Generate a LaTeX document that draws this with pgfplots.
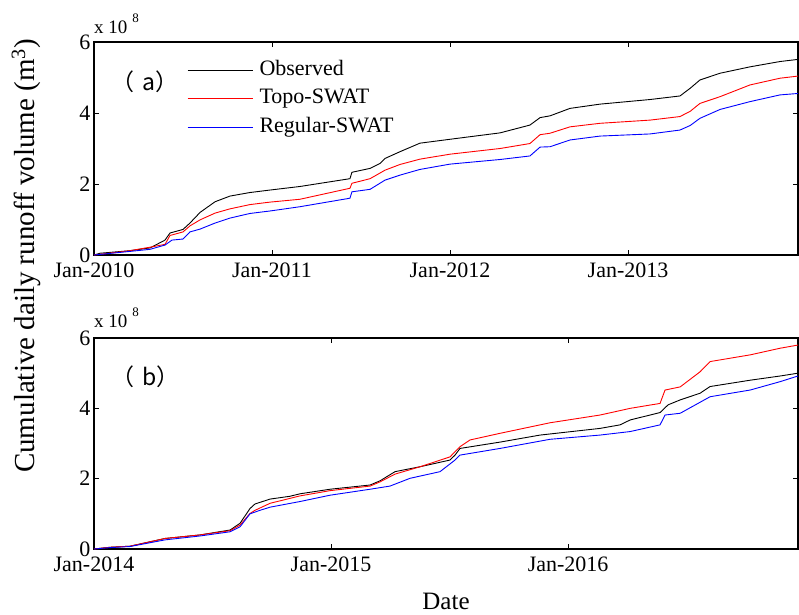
\documentclass[border=0pt]{standalone}
\usepackage{pgfplots}
\pgfplotsset{compat=1.18}
\usepackage{fontspec}
\setmainfont{Liberation Serif}
\newfontfamily\cjk{Noto Sans CJK SC}
\newcommand{\tkfont}{\rmfamily\fontsize{22}{26}\selectfont}
\newcommand{\xten}{\rmfamily\fontsize{19}{22}\selectfont x 10\hspace{5pt}\raisebox{11pt}{\fontsize{13}{14}\selectfont 8}}
\begin{document}
\begin{tikzpicture}
\useasboundingbox (-94pt,-65pt) rectangle (705pt,549pt);
\pgfplotsset{
 common/.style={
  scale only axis, width=704pt,
  ymin=0, ymax=6, ytick={0,2,4,6},
  yticklabels={\tkfont 0,\tkfont 2,\tkfont 4,\tkfont 6},
  tick align=inside, major tick length=5pt,
  axis line style={line width=1.1pt},
  tick style={line width=0.9pt, black},
  clip mode=individual,
  /pgf/number format/assume math mode=true,
  xticklabel style={font=\tkfont, yshift=-4pt},
  yticklabel style={font=\tkfont, inner ysep=0pt},
 },
 every axis plot/.append style={line width=0.9pt},
}
\begin{axis}[common, at={(0pt,294pt)}, height=213pt,
  xmin=2010, xmax=2013.955, xtick={2010,2011,2012,2013},
  xticklabels={\tkfont Jan-2010,\tkfont Jan-2011,\tkfont Jan-2012,\tkfont Jan-2013},
  legend style={at={(axis description cs:0.132,0.915)}, anchor=north west,
    draw=none, fill=none, inner sep=0pt, row sep=8.5pt,
    font=\tkfont,
    nodes={inner xsep=6.5pt, inner ysep=0pt, text height=15pt, text depth=5pt}},
  legend image code/.code={\draw[#1] (0pt,0pt) -- (65pt,0pt);},
  legend cell align=left]
\addplot[black] coordinates {
(2010.0,0) (2010.034,0.05) (2010.2,0.12) (2010.315,0.2) (2010.399,0.42)
(2010.427,0.62) (2010.5,0.72) (2010.539,0.9) (2010.596,1.2) (2010.68,1.5)
(2010.764,1.66) (2010.876,1.76) (2010.989,1.83) (2011.157,1.93) (2011.438,2.15)
(2011.449,2.33) (2011.551,2.44) (2011.607,2.58) (2011.635,2.72) (2011.719,2.91)
(2011.831,3.15) (2012.0,3.26) (2012.281,3.44) (2012.449,3.66) (2012.506,3.87)
(2012.562,3.92) (2012.674,4.13) (2012.843,4.25) (2013.124,4.38) (2013.292,4.48)
(2013.35,4.7) (2013.404,4.93) (2013.517,5.12) (2013.685,5.3) (2013.854,5.45)
(2013.955,5.51)};
\addlegendentry{Observed}
\addplot[red] coordinates {
(2010.0,0) (2010.2,0.12) (2010.315,0.22) (2010.399,0.3) (2010.427,0.55)
(2010.5,0.65) (2010.539,0.82) (2010.596,0.99) (2010.68,1.18) (2010.764,1.3)
(2010.876,1.42) (2010.989,1.49) (2011.157,1.57) (2011.438,1.88) (2011.449,2.02)
(2011.551,2.15) (2011.635,2.39) (2011.719,2.55) (2011.831,2.7) (2012.0,2.84)
(2012.281,3.0) (2012.449,3.14) (2012.506,3.39) (2012.562,3.43) (2012.674,3.61)
(2012.843,3.71) (2013.124,3.8) (2013.292,3.9) (2013.35,4.05) (2013.404,4.27)
(2013.517,4.46) (2013.685,4.79) (2013.854,4.98) (2013.955,5.04)};
\addlegendentry{Topo-SWAT}
\addplot[blue] coordinates {
(2010.0,0) (2010.2,0.1) (2010.315,0.16) (2010.399,0.28) (2010.438,0.42)
(2010.5,0.45) (2010.539,0.65) (2010.596,0.73) (2010.68,0.9) (2010.764,1.04)
(2010.876,1.17) (2010.989,1.24) (2011.157,1.36) (2011.438,1.6) (2011.449,1.78)
(2011.551,1.85) (2011.635,2.11) (2011.719,2.25) (2011.831,2.41) (2012.0,2.56)
(2012.281,2.69) (2012.449,2.79) (2012.506,3.04) (2012.562,3.05) (2012.674,3.24)
(2012.843,3.35) (2013.124,3.41) (2013.292,3.52) (2013.35,3.65) (2013.404,3.85)
(2013.517,4.1) (2013.685,4.32) (2013.854,4.51) (2013.955,4.55)};
\addlegendentry{Regular-SWAT}
\node[anchor=base west, inner sep=0pt] at (rel axis cs:0,1) [yshift=9pt] {\xten};
\node[anchor=west, inner sep=0pt, font=\cjk\fontsize{23}{26}\selectfont]
  at (rel axis cs:0.024,0.812) {（\hspace{8pt}a）};
\end{axis}
\begin{axis}[common, at={(0pt,0pt)}, height=211pt,
  xmin=2014, xmax=2016.97, xtick={2014,2015,2016},
  xticklabels={\tkfont Jan-2014,\tkfont Jan-2015,\tkfont Jan-2016}]
\addplot[black] coordinates {
(2014.0,0) (2014.068,0.05) (2014.152,0.08) (2014.3,0.3) (2014.447,0.4)
(2014.574,0.54) (2014.616,0.73) (2014.658,1.15) (2014.679,1.28) (2014.743,1.42)
(2014.827,1.5) (2014.869,1.57) (2014.996,1.7) (2015.165,1.82) (2015.207,1.94)
(2015.27,2.2) (2015.376,2.34) (2015.502,2.53) (2015.523,2.67) (2015.544,2.86)
(2015.713,3.04) (2015.882,3.24) (2016.135,3.43) (2016.219,3.53) (2016.262,3.67)
(2016.388,3.88) (2016.422,4.1) (2016.473,4.24) (2016.557,4.43) (2016.599,4.62)
(2016.768,4.8) (2016.895,4.92) (2016.97,5.0)};
\addplot[red] coordinates {
(2014.0,0) (2014.068,0.05) (2014.152,0.08) (2014.3,0.3) (2014.447,0.4)
(2014.574,0.52) (2014.616,0.68) (2014.658,1.01) (2014.679,1.1) (2014.743,1.3)
(2014.869,1.51) (2014.996,1.66) (2015.165,1.79) (2015.207,1.91) (2015.27,2.13)
(2015.376,2.34) (2015.502,2.62) (2015.544,2.91) (2015.586,3.1) (2015.713,3.29)
(2015.924,3.59) (2016.135,3.81) (2016.262,4.0) (2016.388,4.14) (2016.409,4.52)
(2016.473,4.61) (2016.557,5.04) (2016.599,5.33) (2016.768,5.52) (2016.895,5.71)
(2016.97,5.8)};
\addplot[blue] coordinates {
(2014.0,0) (2014.068,0.04) (2014.152,0.07) (2014.3,0.26) (2014.447,0.37)
(2014.574,0.49) (2014.616,0.63) (2014.658,1.0) (2014.7,1.1) (2014.743,1.19)
(2014.869,1.35) (2014.996,1.53) (2015.165,1.7) (2015.249,1.79) (2015.333,2.01)
(2015.46,2.2) (2015.523,2.53) (2015.544,2.67) (2015.713,2.86) (2015.924,3.12)
(2016.135,3.24) (2016.262,3.34) (2016.388,3.53) (2016.409,3.81) (2016.473,3.86)
(2016.599,4.33) (2016.768,4.52) (2016.895,4.76) (2016.97,4.92)};
\node[anchor=base west, inner sep=0pt] at (rel axis cs:0,1) [yshift=11pt] {\xten};
\node[anchor=west, inner sep=0pt, font=\cjk\fontsize{23}{26}\selectfont]
  at (rel axis cs:0.024,0.815) {（\hspace{8pt}b）};
\end{axis}
\node[rotate=90, font=\rmfamily\fontsize{29}{32}\selectfont] at (-68pt,293pt)
  {Cumulative daily runoff volume (m\textsuperscript{3})};
\node[font=\rmfamily\fontsize{25}{28}\selectfont] at (352pt,-52pt) {Date};
\end{tikzpicture}
\end{document}
